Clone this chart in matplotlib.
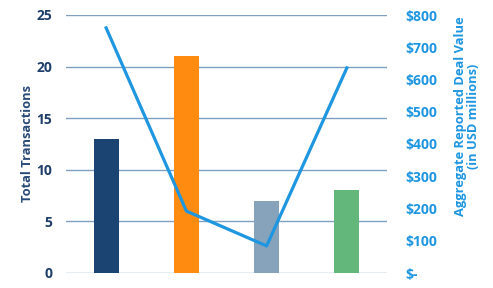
import numpy as np
import matplotlib.pyplot as plt

# values
categories = ['A', 'B', 'C', 'D']
transactions = [13, 21, 7, 8]
deal_value = [760, 192, 84, 636]
bar_colors = ['#1b4473', '#ff8c11', '#87a3bb', '#64b77a']

left_ticks = [0, 5, 10, 15, 20, 25]
right_ticks = [0, 100, 200, 300, 400, 500, 600, 700, 800]
right_labels = ['$-', '$100', '$200', '$300', '$400', '$500', '$600', '$700', '$800']

navy = '#1f3f6a'
blue = '#1e96e0'

plt.rcParams['font.family'] = ['Open Sans', 'DejaVu Sans']

fig = plt.figure(figsize=(4.93, 2.88), dpi=100)
ax = fig.add_axes([66 / 493, 15 / 288, 321 / 493, 258 / 288])
x = np.arange(len(categories))

ax.bar(x, transactions, width=0.31, color=bar_colors, zorder=3)
ax.set_xlim(-0.5, 3.5)
ax.set_ylim(0, 25)
ax.set_yticks(left_ticks)
ax.set_xticks([])
ax.grid(axis='y', color='#7f9fbf', linewidth=1, zorder=0)
ax.set_axisbelow(True)
for s in ax.spines.values():
    s.set_visible(False)
ax.tick_params(axis='y', length=0, pad=10, labelsize=10, labelcolor=navy)
for lbl in ax.get_yticklabels():
    lbl.set_fontweight('bold')
ax.set_ylabel('Total Transactions', color='#2a4a78', fontsize=9.3, fontweight='bold')
ax.yaxis.set_label_coords((34 - 66) / 321, 0.5)

ax2 = ax.twinx()
ax2.plot(x, deal_value, color=blue, linewidth=2.3, zorder=4)
ax2.set_ylim(0, 800)
ax2.set_yticks(right_ticks)
ax2.set_yticklabels(right_labels)
for s in ax2.spines.values():
    s.set_visible(False)
ax2.tick_params(axis='y', length=0, pad=13, labelsize=10, labelcolor=blue)
for lbl in ax2.get_yticklabels():
    lbl.set_fontweight('bold')
ax2.set_ylabel('Aggregate Reported Deal Value\n(in USD millions)', color=blue,
               fontsize=9.3, fontweight='bold', linespacing=1.0)
ax2.yaxis.set_label_coords((454 - 66) / 321, (273 - 116) / 258)

fig.savefig('out.png', dpi=100)
